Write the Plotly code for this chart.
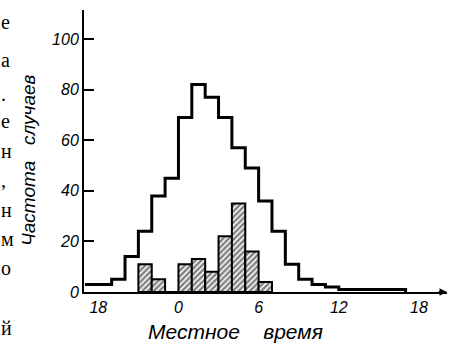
import plotly.graph_objects as go

# ---- data ----
bin_left = [-7, -6, -5, -4, -3, -2, -1, 0, 1, 2, 3, 4, 5, 6, 7, 8, 9, 10, 11, 12, 13, 14, 15, 16]
all_counts = [3, 3, 5, 14, 24, 38, 45, 69, 82, 77, 69, 57, 49, 36, 24, 11, 5, 3, 2, 1, 1, 1, 1, 1]
hatch_left = [-3, -2, -1, 0, 1, 2, 3, 4, 5, 6]
hatch_counts = [11, 5, 0, 11, 13, 8, 22, 35, 16, 4]
x_tickvals = [-6, 0, 6, 12, 18]
x_ticktext = ["18", "0", "6", "12", "18"]
y_tickvals = [0, 20, 40, 60, 80, 100]
y_ticktext = ["0", "20", "40", "60", "80", "100"]
margin_letters = ["е", "а", ".", "е", "н", ",", "н", "м", "о", "й"]
margin_letter_y = [22, 60, 94, 121, 151, 180, 210, 239, 268, 328]

W, H = 458, 347
ML, MR, MT, MB = 84, 11, 10, 55
PW = W - ML - MR
PH = H - MT - MB

def px_x(p):
    return (p - ML) / PW

def px_y(p):
    return (H - MB - p) / PH

fig = go.Figure()

# hatched histogram
fig.add_trace(go.Bar(
    x=[v + 0.5 for v in hatch_left], y=hatch_counts, width=1,
    marker=dict(color="white", line=dict(color="black", width=2),
                pattern=dict(shape="/", fgcolor="black", bgcolor="white",
                             size=4, solidity=0.62)),
    showlegend=False, hoverinfo="skip"))

# outer step histogram
step_x = bin_left + [bin_left[-1] + 1, bin_left[-1] + 1]
step_y = all_counts + [all_counts[-1], 0]
fig.add_trace(go.Scatter(
    x=step_x, y=step_y, mode="lines", line=dict(color="black", width=3, shape="hv"),
    showlegend=False, hoverinfo="skip"))

tick_font = dict(family="Liberation Sans", size=16, color="black", style="italic")

fig.update_layout(
    width=W, height=H,
    margin=dict(l=ML, r=MR, t=MT, b=MB, autoexpand=False),
    paper_bgcolor="white", plot_bgcolor="white",
    bargap=0,
    xaxis=dict(range=[-7.07, 20.1], showline=True, linecolor="black", linewidth=2,
               ticks="", ticklen=0, tickvals=x_tickvals, ticktext=x_ticktext, tickfont=tick_font,
               showgrid=False, zeroline=False, fixedrange=True, automargin=False),
    yaxis=dict(range=[0, 111.5], showline=True, linecolor="black", linewidth=2,
               ticks="inside", ticklen=10, tickwidth=2, tickcolor="black",
               tickvals=y_tickvals, ticktext=y_ticktext, tickfont=tick_font,
               showgrid=False, zeroline=False, fixedrange=True, automargin=False),
)

# x-axis arrow
fig.add_annotation(x=1, y=0, xref="paper", yref="paper", ax=-10, ay=0,
                   showarrow=True, arrowhead=2, arrowsize=1, arrowwidth=1.5,
                   arrowcolor="black", text="")

# axis titles
fig.add_annotation(x=px_x(235), y=px_y(331), xref="paper", yref="paper",
                   text="Местное\u00a0\u00a0\u00a0\u00a0время", showarrow=False,
                   font=dict(family="Liberation Sans", size=21, color="black", style="italic"),
                   xanchor="center", yanchor="middle")
fig.add_annotation(x=px_x(28), y=px_y(160), xref="paper", yref="paper",
                   text="Частота\u00a0\u00a0\u00a0случаев", showarrow=False, textangle=-90,
                   font=dict(family="Liberation Sans", size=19, color="black", style="italic"),
                   xanchor="center", yanchor="middle")

# page text fragments on the left edge
for ch, yy in zip(margin_letters, margin_letter_y):
    fig.add_annotation(x=px_x(-1), y=px_y(yy), xref="paper", yref="paper",
                       text=ch, showarrow=False,
                       font=dict(family="Liberation Serif", size=20, color="black"),
                       xanchor="left", yanchor="middle")

fig.write_html("out.html", config={"displayModeBar": False, "staticPlot": True},
               post_script="document.body.style.margin='0';document.body.style.padding='0';")
